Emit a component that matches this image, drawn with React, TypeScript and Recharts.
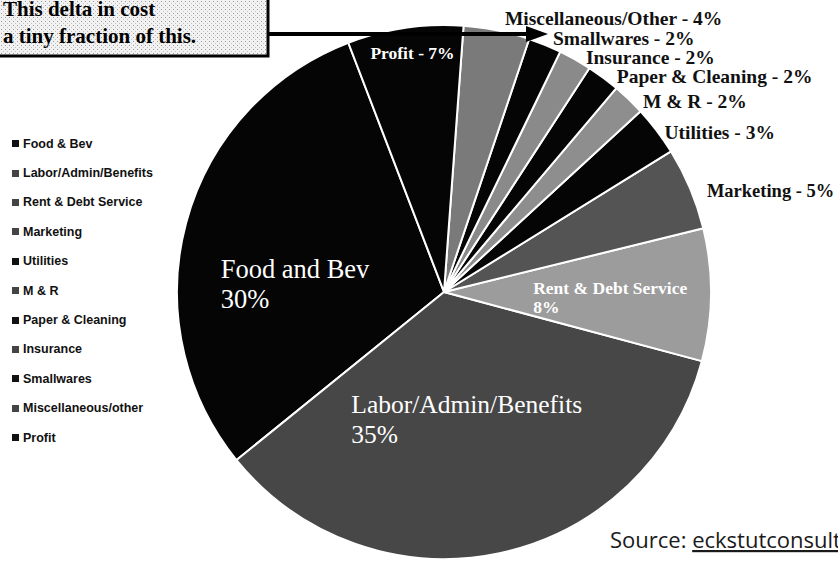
import React from 'react';
import { PieChart, Pie, Cell } from 'recharts';

// cost breakdown, percent of revenue
const categories = [
  'Food & Bev',
  'Labor/Admin/Benefits',
  'Rent & Debt Service',
  'Marketing',
  'Utilities',
  'M & R',
  'Paper & Cleaning',
  'Insurance',
  'Smallwares',
  'Miscellaneous/other',
  'Profit',
];
const shares = [30, 35, 8, 5, 3, 2, 2, 2, 2, 4, 7];
const sliceNames = [
  'Food and Bev',
  'Labor/Admin/Benefits',
  'Rent & Debt Service',
  'Marketing',
  'Utilities',
  'M & R',
  'Paper & Cleaning',
  'Insurance',
  'Smallwares',
  'Miscellaneous/Other',
  'Profit',
];
const insideSlices = ['Food and Bev', 'Labor/Admin/Benefits', 'Rent & Debt Service', 'Profit'];
const sliceColors = [
  '#050505', '#474747', '#9c9c9c', '#545454', '#050505', '#8e8e8e',
  '#050505', '#8a8a8a', '#050505', '#7a7a7a', '#050505',
];

const chartData = categories.map((c, i) => ({
  name: c,
  label: sliceNames[i],
  value: shares[i],
}));

const RADIAN = Math.PI / 180;
const SERIF = '"Liberation Serif", "DejaVu Serif", serif';

// per-slice nudges for the labels (index -> offsets)
const labelPos: Record<number, { rf: number; dx: number; dy: number; fs: number; gap: number; anchor: string }> = {
  0: { rf: 0.8, dx: -17, dy: 41, fs: 26.5, gap: 30, anchor: 'start' },
  1: { rf: 0.42, dx: -116, dy: 11, fs: 25.5, gap: 30, anchor: 'start' },
  2: { rf: 0.66, dx: -87, dy: 0, fs: 17.5, gap: 19, anchor: 'start' },
  3: { rf: 1.06, dx: 2, dy: 15, fs: 18.5, gap: 0, anchor: 'start' },
  4: { rf: 1.06, dx: -5, dy: 18, fs: 19.5, gap: 0, anchor: 'start' },
  5: { rf: 1.06, dx: 3, dy: 20, fs: 19.5, gap: 0, anchor: 'start' },
  6: { rf: 1.06, dx: 4, dy: 18, fs: 19.5, gap: 0, anchor: 'start' },
  7: { rf: 1.06, dx: 3, dy: 19, fs: 19.5, gap: 0, anchor: 'start' },
  8: { rf: 1.06, dx: 2, dy: 15, fs: 19.5, gap: 0, anchor: 'start' },
  9: { rf: 1.06, dx: 5, dy: 10, fs: 19.5, gap: 0, anchor: 'start' },
  10: { rf: 0.91, dx: 4, dy: 7, fs: 17.5, gap: 0, anchor: 'middle' },
};

function renderLabel(props: any) {
  const { cx, cy, midAngle, outerRadius, index, payload, value } = props;
  const st = labelPos[index];
  const r = outerRadius * st.rf;
  const x = cx + r * Math.cos(-midAngle * RADIAN) + st.dx;
  const y = cy + r * Math.sin(-midAngle * RADIAN) + st.dy;
  const name = payload?.label ?? sliceNames[index];
  const inside = insideSlices.includes(name);

  if (inside && st.gap > 0) {
    return (
      <text x={x} y={y} fill="#fff" fontFamily={SERIF} fontSize={st.fs} textAnchor={st.anchor}
        fontWeight={index === 2 ? 'bold' : 'normal'}>
        <tspan x={x}>{name}</tspan>
        <tspan x={x} dy={st.gap}>{`${value}%`}</tspan>
      </text>
    );
  }
  return (
    <text x={x} y={y} fill={inside ? '#fff' : '#111'} fontFamily={SERIF} fontSize={st.fs}
      fontWeight="bold" textAnchor={st.anchor}>
      {`${name} - ${value}%`}
    </text>
  );
}

function LegendBox() {
  return (
    <div style={{
      position: 'absolute', left: 12, top: 129, width: 170,
      fontFamily: '"Liberation Sans", Arial, sans-serif', fontSize: 12.5, fontWeight: 'bold', color: '#111',
    }}>
      {categories.map((c, i) => (
        <div key={`lg-${i}`} style={{ height: 29.4, display: 'flex', alignItems: 'center' }}>
          <span style={{ display: 'inline-block', width: 7, height: 7, background: sliceColors[i] === '#050505' ? '#111' : '#444', marginRight: 4 }} />
          <span>{c}</span>
        </div>
      ))}
    </div>
  );
}

export default function App() {
  return (
    <div style={{ position: 'absolute', left: 0, top: 0, width: 838, height: 567, overflow: 'hidden', background: '#fff' }}>
      <PieChart width={838} height={567} margin={{ top: 0, right: 0, bottom: 0, left: 0 }}>
        <Pie
          data={chartData}
          dataKey="value"
          nameKey="name"
          cx={444}
          cy={292}
          outerRadius={267}
          startAngle={111}
          endAngle={471}
          stroke="#fff"
          strokeWidth={2}
          label={renderLabel}
          labelLine={false}
          isAnimationActive={false}
        >
          {chartData.map((entry, index) => (
            <Cell key={`cell-${index}`} fill={sliceColors[index]} />
          ))}
        </Pie>
      </PieChart>
      <LegendBox />

      {/* callout box + arrow */}
      <svg width={838} height={567} style={{ position: 'absolute', left: 0, top: 0, pointerEvents: 'none' }}>
        <defs>
          <pattern id="stipple" width="4" height="4" patternUnits="userSpaceOnUse">
            <rect width="4" height="4" fill="#f2f2f2" />
            <rect x="1" y="1" width="1" height="1" fill="#9a9a9a" />
            <rect x="3" y="3" width="1" height="1" fill="#c0c0c0" />
          </pattern>
        </defs>
        <rect x={-3} y={-3} width={271} height={59} fill="url(#stipple)" stroke="#000" strokeWidth={3} />
        <text x={3} y={16} fontFamily={SERIF} fontSize={21} fontWeight="bold" fill="#000">This delta in cost</text>
        <text x={3} y={43} fontFamily={SERIF} fontSize={21} fontWeight="bold" fill="#000">a tiny fraction of this.</text>
        <line x1={268} y1={34} x2={532} y2={34} stroke="#000" strokeWidth={4} />
        <polygon points="526,26 548,34 526,42" fill="#000" />
        <text x={610} y={548} fontFamily='"Open Sans", sans-serif' fontSize={22} fill="#1a1a1a">
          Source: <tspan textDecoration="underline">eckstutconsulting.com</tspan>
        </text>
      </svg>
    </div>
  );
}
